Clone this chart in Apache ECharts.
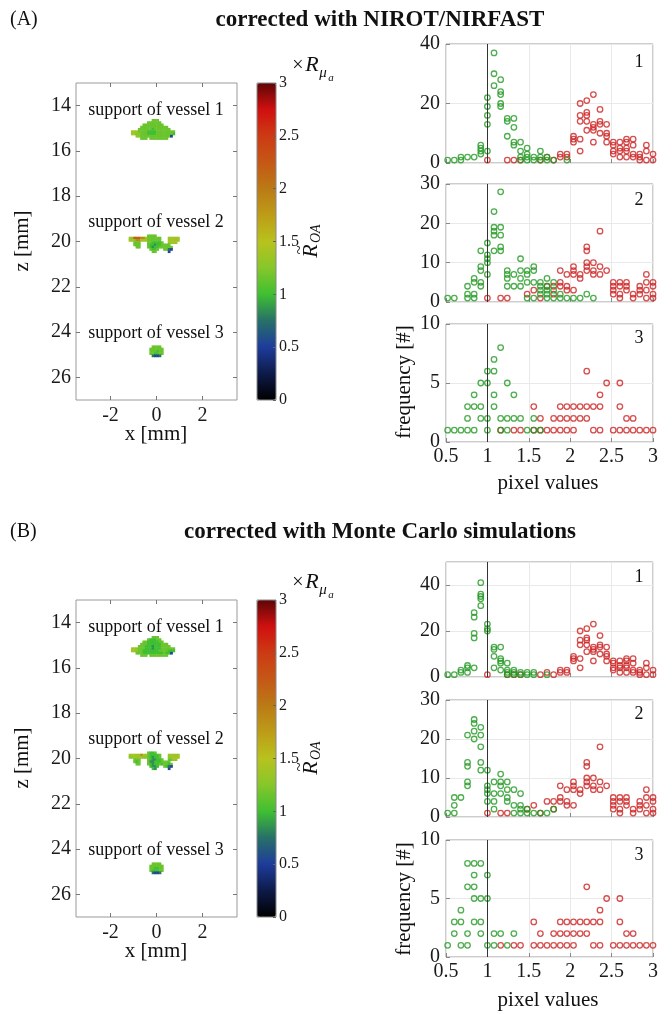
<!DOCTYPE html>
<html>
<head>
<meta charset="utf-8" />
<title></title>
<script src="https://cdn.jsdelivr.net/npm/echarts@6/dist/echarts.min.js"></script>
<style>
    html, body { margin: 0; padding: 0; background: #fff; }
    #main { width: 672px; height: 1014px; }
</style>
</head>
<body>
<div id="main"></div>
<script>
// histogram bin centres (pixel values)
var binCenters = [0.52, 0.60, 0.68, 0.76, 0.84, 0.92, 1.00, 1.08, 1.16, 1.24, 1.32, 1.40, 1.48, 1.56, 1.64, 1.72,
                  1.80, 1.88, 1.96, 2.04, 2.12, 2.20, 2.28, 2.36, 2.44, 2.52, 2.60, 2.68, 2.76, 2.84, 2.92, 3.00];

// frequencies per bin (one entry per bin, several circles per bin)
var red1 = [[], [], [], [], [], [], [1], [], [], [1], [1], [1], [], [], [1], [2], [1], [3, 2], [3, 2], [9, 8, 7],
            [20, 16, 14, 8, 4], [21, 17, 16, 14, 11], [23, 13, 12, 11, 7], [18, 14, 13, 10], [13, 10, 9, 7],
            [7, 6, 4, 3], [7, 5, 4, 2], [8, 7, 5, 4, 2], [8, 6, 3, 2], [3, 2, 1], [6, 4, 1], [3, 1]];
var red2 = [[], [], [], [], [], [], [1], [], [1], [1], [], [], [2], [3], [1], [4], [4, 2], [8, 5, 4], [7, 4, 3],
            [9, 8, 7, 3], [7, 6], [14, 13, 10, 9, 8], [10, 8, 7], [18, 9, 7], [8], [5, 4, 3, 2], [5, 4, 2, 1],
            [5, 4, 3], [2, 1], [4, 3, 2], [7, 5, 3, 1], [5, 4, 2, 1]];
var red3 = [[], [], [], [], [], [], [], [], [1], [], [1], [1], [], [3, 1], [2, 1], [1], [2, 1], [3, 2, 1], [3, 2, 1],
            [3, 2, 1], [3, 2], [6, 3, 2], [3, 1], [4, 3, 1], [5], [1], [5, 3, 1], [2, 1], [2, 1], [1], [1], [1]];

var greenA1 = [[1], [1], [2, 1], [2], [2], [6, 5, 4, 3], [22, 19, 16, 13, 4], [37, 30, 26], [28, 24, 23, 20, 19],
               [15, 14, 9], [15, 12, 7, 6], [7, 4, 2, 1], [5, 3, 2, 1], [2, 1], [4, 2, 1], [2, 1], [1], [], [1]];
var greenA2 = [[1], [1], [], [4, 2, 1], [6, 5, 2, 1], [13, 9, 8, 5, 4], [15, 12, 11, 10, 7], [23, 19, 18, 17, 13],
               [28, 19, 17, 14, 13], [8, 7, 6, 4], [7, 4], [11, 8, 6, 4], [8, 7, 5, 1], [9, 8, 5, 1], [5, 4, 3, 2],
               [6, 4, 3, 2, 1], [5, 3, 1], [2, 1], [1], [1], [1], [2], [1]];
var greenA3 = [[1], [1], [1], [3, 2, 1], [4, 3, 1], [5, 3, 2], [6, 5, 2, 1], [7, 6, 4, 3], [8, 2, 1], [5, 2, 1],
               [4, 2], [2], [1], [2, 1], [1]];
var greenB1 = [[1], [1], [3, 2], [5, 4, 2], [28, 26, 19, 17, 4], [41, 36, 35, 34, 31], [23, 21, 20], [13, 12, 9, 4],
               [13, 8, 7, 6, 3], [6, 3, 2, 1], [3, 2, 1], [2, 1], [2, 1], [2, 1], [], [1]];
var greenB2 = [[1], [5, 3, 1], [5], [21, 14, 13, 9, 8], [25, 24, 22, 20], [23, 21, 18, 14, 12], [12, 8, 7, 6, 4],
               [9, 6, 4, 2], [11, 9, 8, 6], [9, 7, 5, 4], [7, 3, 1], [6, 3, 2, 1], [2, 1], [1], [1], [1], [2]];
var greenB3 = [[1], [3, 2], [4, 3, 1], [8, 6, 2, 1], [8, 7, 6, 5, 3], [8, 5, 3, 2], [7, 5, 1], [2, 1], [2], [1], [2]];

// reconstructed support images, 0.1 mm pixels: code letter -> R_OA value
var pixelCodes = { b: 0.55, t: 0.75, d: 0.85, G: 1.0, g: 1.15, Y: 1.27, y: 1.38, O: 1.9, o: 2.2 };
var vesselA1 = [".........ggg.......",
                ".......gggggg......",
                ".....ggggggggg.....",
                "....gggggggggggg...",
                "...ggggggGggggggg..",
                "yyyggggGGGGgggggggg",
                "yyYYgggGGGGgggggggG",
                "..YYgggggggggggggb.",
                "....ggg.gggggggg..."];
var vesselA2 = ["........gggg..........",
                "yYoooOOygggggg...yyyyy",
                "yyYOOyyygggggg...yyyyy",
                "..ggg...ggGGGGg..yyyy.",
                "..ggg...gGGdGGgggg....",
                "...gg...gGdGGgggggg...",
                ".........gGGg..ggtb...",
                "..........gg.....b...."];
var vesselA3 = [".gggg.",
                "gggggg",
                "gggGgg",
                "ggGGgg",
                ".tbbt."];
var vesselB1 = [".........ggg.......",
                ".......gGGGgg......",
                ".....ggGGGGGgg.....",
                "....gggGGGGGGggg...",
                "...gggGGGdGGGgggg..",
                "yyYgggGGGdGGGgggggg",
                "yyYggGGGGGGGggggGGG",
                "..gggGGGGGGGGGgGGb.",
                "....ggg.gggggggg..."];
var vesselB2 = ["........gGGg..........",
                "yyyyyOyygGGGGg...yyyyy",
                "YYyyyyYYgGdGGg...Yyyyy",
                "..ggg...gGddGGg..ggyy.",
                "..gGg...gddGGGgggg....",
                "...gg...gGdGGgGggGg...",
                ".........GddG..gGtb...",
                "..........Gd.....b...."];
var vesselB3 = [".gggg.",
                "gggggg",
                "ggGGgg",
                "gGGGgg",
                ".tbbt."];
// [rows, x of first column (mm), z of first row (mm)]
var vesselsA = [[vesselA1, -1.1, 14.6], [vesselA2, -1.2, 19.7], [vesselA3, -0.3, 24.6]];
var vesselsB = [[vesselB1, -1.1, 14.6], [vesselB2, -1.2, 19.7], [vesselB3, -0.3, 24.6]];

var xTicksMM = [-2, 0, 2];
var zTicksMM = [14, 16, 18, 20, 22, 24, 26];
var cmap = ['#000000', '#0e1a48', '#1e3c9c', '#277068', '#3fbf32', '#86c72a', '#b8c21e',
            '#bd9c17', '#bb7a16', '#c45816', '#cc3a14', '#d01010', '#5e0606'];

var serif = 'Liberation Serif';
var green = '#229922';
var red = '#cc2222';

// ---- helpers ----
function histPoints(counts) {
    var pts = [];
    counts.forEach(function (col, i) {
        col.forEach(function (c) { pts.push([binCenters[i], c]); });
    });
    return pts;
}
function imageCells(vessels) {
    var cells = [];
    vessels.forEach(function (v) {
        v[0].forEach(function (row, r) {
            for (var c = 0; c < row.length; c++) {
                var ch = row.charAt(c);
                if (ch === '.') continue;
                var xi = Math.round((v[1] + 0.1 * c + 3.5) * 10);
                var zj = Math.round((v[2] + 0.1 * r - 13) * 10);
                cells.push([xi, zj, pixelCodes[ch]]);
            }
        });
    });
    return cells;
}
var xCells = [], zCells = [];
for (var i = 0; i < 70; i++) xCells.push(String(i));
for (var j = 0; j < 140; j++) zCells.push(String(j));

var tickFont = { fontFamily: serif, fontSize: 20, color: '#1a1a1a' };
var boxColor = '#9a9a9a';
var noLine = { show: false, onZero: false };

var grids = [], xAxes = [], yAxes = [], series = [], visualMaps = [], graphics = [];

function addImagePanel(top, vessels) {
    var g = grids.length, a = xAxes.length;
    grids.push({ left: 76, top: top, width: 161, height: 317, show: true, borderColor: boxColor, borderWidth: 1 });
    grids.push({ left: 76, top: top, width: 161, height: 317 });
    grids.push({ left: 257, top: top, width: 19, height: 317, show: true, borderColor: '#888', borderWidth: 1, z: 10 });
    var tickX = { show: true, inside: true, length: 4, customValues: xTicksMM, lineStyle: { color: '#777' } };
    var tickZ = { show: true, inside: true, length: 4, customValues: zTicksMM, lineStyle: { color: '#777' } };
    xAxes.push({ type: 'value', gridIndex: g, min: -3.5, max: 3.5, axisLine: noLine, axisTick: tickX,
        splitLine: { show: false }, axisLabel: Object.assign({ customValues: xTicksMM, margin: 6 }, tickFont) });
    xAxes.push({ type: 'value', gridIndex: g, position: 'top', min: -3.5, max: 3.5, axisLine: noLine,
        axisTick: tickX, splitLine: { show: false }, axisLabel: { show: false } });
    xAxes.push({ type: 'category', gridIndex: g + 1, data: xCells, show: false });
    xAxes.push({ type: 'value', gridIndex: g + 2, min: 0, max: 1, show: false });
    yAxes.push({ type: 'value', gridIndex: g, min: 13, max: 27, inverse: true, axisLine: noLine,
        axisTick: tickZ, splitLine: { show: false }, axisLabel: Object.assign({ customValues: zTicksMM, margin: 5 }, tickFont) });
    yAxes.push({ type: 'value', gridIndex: g, position: 'right', min: 13, max: 27, inverse: true, axisLine: noLine,
        axisTick: tickZ, splitLine: { show: false }, axisLabel: { show: false } });
    yAxes.push({ type: 'category', gridIndex: g + 1, data: zCells, inverse: true, show: false });
    yAxes.push({ type: 'value', gridIndex: g + 2, min: 0, max: 3, interval: 0.5, position: 'right', z: 10,
        axisLine: noLine, splitLine: { show: false },
        axisTick: { show: true, inside: true, length: 3, lineStyle: { color: '#666' } },
        axisLabel: { fontFamily: serif, fontSize: 16, color: '#1a1a1a', margin: 3 } });
    var s = series.length;
    series.push({ type: 'heatmap', xAxisIndex: a + 2, yAxisIndex: a + 2, data: imageCells(vessels),
        progressive: 0, emphasis: { disabled: true } });
    visualMaps.push({ type: 'continuous', seriesIndex: s, min: 0, max: 3, left: 257, top: top,
        itemWidth: 19, itemHeight: 317, padding: 0, calculable: false, hoverLink: false,
        inRange: { color: cmap }, textStyle: { color: 'rgba(0,0,0,0)' }, z: 1 });
}

function addHistPanel(top, height, ymax, yint, green_counts, red_counts, showX) {
    var g = grids.length, a = xAxes.length;
    grids.push({ left: 446, top: top, width: 207, height: height, show: true, borderColor: boxColor, borderWidth: 1 });
    xAxes.push({ type: 'value', gridIndex: g, min: 0.5, max: 3, interval: 0.5,
        axisLine: noLine, axisTick: { inside: true, length: 4, lineStyle: { color: '#888' } },
        splitLine: { show: true, lineStyle: { color: '#e9e9e9' } },
        axisLabel: Object.assign({ show: showX, margin: 5 }, tickFont) });
    yAxes.push({ type: 'value', gridIndex: g, min: 0, max: ymax, interval: yint,
        axisLine: noLine, axisTick: { inside: true, length: 4, lineStyle: { color: '#888' } },
        splitLine: { show: true, lineStyle: { color: '#e9e9e9' } },
        axisLabel: Object.assign({ margin: 6, showMaxLabel: ymax % yint === 0 }, tickFont) });
    series.push({ type: 'scatter', xAxisIndex: a, yAxisIndex: a, data: histPoints(red_counts),
        symbol: 'circle', symbolSize: 5.5, itemStyle: { color: 'rgba(0,0,0,0)', borderColor: red, borderWidth: 1.3 } });
    series.push({ type: 'scatter', xAxisIndex: a, yAxisIndex: a, data: histPoints(green_counts),
        symbol: 'circle', symbolSize: 5.5, itemStyle: { color: 'rgba(0,0,0,0)', borderColor: green, borderWidth: 1.3 },
        markLine: { silent: true, symbol: 'none', label: { show: false }, animation: false,
            lineStyle: { color: '#333', width: 1, type: 'solid' }, data: [{ xAxis: 1 }] } });
}

addImagePanel(83, vesselsA);
addImagePanel(600, vesselsB);
addHistPanel(44, 119, 40, 20, greenA1, red1, false);
addHistPanel(184, 118, 30, 10, greenA2, red2, false);
addHistPanel(324, 118, 10, 5, greenA3, red3, true);
addHistPanel(562, 115, 50, 20, greenB1, red1, false);
addHistPanel(700, 117, 30, 10, greenB2, red2, false);
addHistPanel(840, 117, 10, 5, greenB3, red3, true);

// ---- texts ----
function txt(x, y, s, size, extra) {
    var st = Object.assign({ text: s, fontFamily: serif, fontSize: size, fill: '#111', align: 'center', verticalAlign: 'middle' }, extra || {});
    var el = { type: 'text', x: x, y: y, z: 20 };
    if (st.rotation !== undefined) { el.rotation = st.rotation; delete st.rotation; }
    el.style = st;
    return el;
}
function panelTexts(dyTitle, dy, label, title) {
    graphics.push(txt(10, 20 + dyTitle, label, 20, { align: 'left' }));
    graphics.push(txt(380, 20 + dyTitle, title, 23, { fontWeight: 'bold' }));
    graphics.push(txt(156, 110 + dy, 'support of vessel 1', 18));
    graphics.push(txt(156, 222 + dy, 'support of vessel 2', 18));
    graphics.push(txt(156, 333 + dy, 'support of vessel 3', 18));
    graphics.push(txt(156, 434 + dy, 'x [mm]', 21));
    graphics.push(txt(22, 241 + dy, 'z [mm]', 21, { rotation: Math.PI / 2 }));
    graphics.push(txt(404, 382 + dy, 'frequency [#]', 21, { rotation: Math.PI / 2 }));
    graphics.push(txt(548, 483 + dy, 'pixel values', 21));
    // colorbar title: x R_mu_a
    graphics.push(txt(298, 66 + dy, '\u00d7', 20));
    graphics.push(txt(312, 65 + dy, 'R', 22, { fontStyle: 'italic' }));
    graphics.push(txt(323, 73 + dy, '\u03bc', 15, { fontStyle: 'italic' }));
    graphics.push(txt(331, 78 + dy, 'a', 11, { fontStyle: 'italic' }));
    // rotated R~_OA
    graphics.push({
        type: 'group', x: 311, y: 258 + dy, rotation: Math.PI / 2, z: 20,
        children: [
            { type: 'text', x: 7, y: 0, style: { text: 'R', fontFamily: serif, fontSize: 22, fontStyle: 'italic', fill: '#111', align: 'center', verticalAlign: 'middle' } },
            { type: 'text', x: 8, y: -11, style: { text: '~', fontFamily: serif, fontSize: 17, fill: '#111', align: 'center', verticalAlign: 'middle' } },
            { type: 'text', x: 15, y: 5, style: { text: 'OA', fontFamily: serif, fontSize: 14, fontStyle: 'italic', fill: '#111', align: 'left', verticalAlign: 'middle' } }
        ]
    });
}
panelTexts(0, 0, '(A)', 'corrected with NIROT/NIRFAST');
panelTexts(512, 517, '(B)', 'corrected with Monte Carlo simulations');
// subplot numbers
[[62, '1'], [200, '2'], [338, '3'], [577, '1'], [714, '2'], [855, '3']].forEach(function (p) {
    graphics.push(txt(639, p[0], p[1], 18));
});

var chart = echarts.init(document.getElementById('main'));
chart.setOption({
    animation: false,
    backgroundColor: '#fff',
    grid: grids,
    xAxis: xAxes,
    yAxis: yAxes,
    visualMap: visualMaps,
    series: series,
    graphic: graphics
});
</script>
</body>
</html>
